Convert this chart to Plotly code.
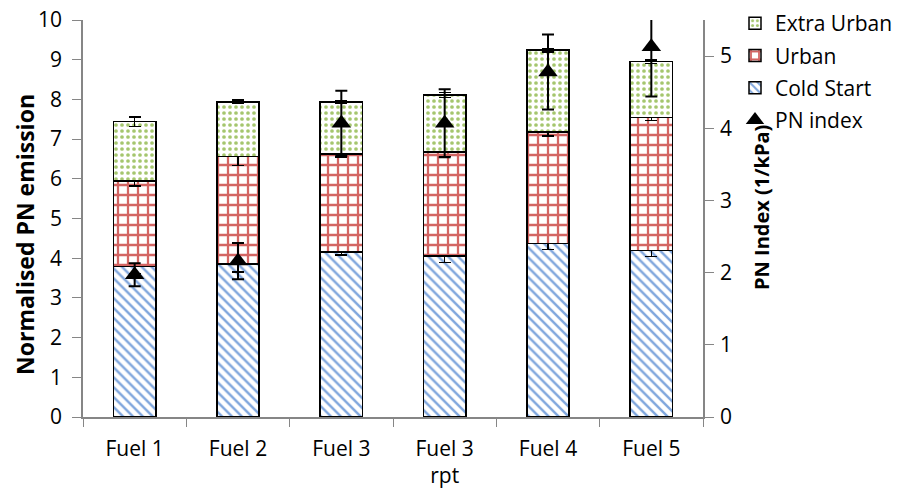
import plotly.graph_objects as go

categories = ["Fuel 1", "Fuel 2", "Fuel 3", "Fuel 3<br>rpt", "Fuel 4", "Fuel 5"]
cold_start = [3.79, 3.85, 4.16, 4.05, 4.37, 4.19]
cold_err = [0.18, 0.20, 0.08, 0.16, 0.15, 0.15]
urban = [2.16, 2.71, 2.46, 2.63, 2.81, 3.36]
urban_err = [0.13, 0.22, 0.07, 0.12, 0.10, 0.08]
extra_urban = [1.49, 1.38, 1.31, 1.43, 2.06, 1.40]
extra_err = [0.12, 0.04, 0.03, 0.06, 0.04, 0.04]
pn_index = [1.97, 2.16, 4.07, 4.07, 4.78, 5.13]
pn_err = [0.16, 0.25, 0.45, 0.47, 0.52, 0.69]

FONT = "'Open Sans', sans-serif"

W, H = 901, 497
ML, MT, MR, MB = 83, 20, 198, 80
PW, PH = W - ML - MR, H - MT - MB
def px_x(page_x):
    return (page_x - ML) / PW
def px_y(page_y):
    return (H - MB - page_y) / PH

def bar(name, vals, errs, fg, shape, size, sol, rank):
    return go.Bar(
        name=name, x=categories, y=vals, yaxis="y",
        marker=dict(color="white", line=dict(color="black", width=1.5),
                    pattern=dict(shape=shape, fgcolor=fg, bgcolor="white",
                                 size=size, solidity=sol, fillmode="replace")),
        error_y=dict(type="data", array=errs, color="black", thickness=1.5, width=6),
        legendrank=rank, legendgroup=name,
    )

fig = go.Figure()
fig.add_trace(bar("Cold Start", cold_start, cold_err, "#7fa6dd", "\\", 7, 0.35, 3))
fig.add_trace(bar("Urban", urban, urban_err, "#d36563", "+", 10, 0.4, 2))
fig.add_trace(bar("Extra Urban", extra_urban, extra_err, "#a5c66e", ".", 6, 0.3, 1))
fig.add_trace(go.Scatter(
    name="PN index", x=categories, y=pn_index, yaxis="y2", mode="markers",
    marker=dict(symbol="triangle-up", size=17, color="black"),
    error_y=dict(type="data", array=pn_err, color="black", thickness=2, width=6),
    legendrank=4, legendgroup="PN index", cliponaxis=True,
))

axis_col = "#868686"
fig.update_layout(
    width=W, height=H,
    margin=dict(l=ML, r=MR, t=MT, b=MB, autoexpand=False),
    paper_bgcolor="white", plot_bgcolor="white",
    barmode="stack", bargap=0.59,
    font=dict(family=FONT, size=21, color="black"),
    showlegend=True,
    legend=dict(x=px_x(735), y=px_y(3), xanchor="left", yanchor="top",
                traceorder="grouped", tracegroupgap=2,
                font=dict(size=21), itemwidth=30, bgcolor="rgba(0,0,0,0)"),
    xaxis=dict(type="category", tickson="boundaries", ticks="outside", ticklen=8,
               tickcolor=axis_col, showline=True, linecolor=axis_col, linewidth=1.5,
               showgrid=False, tickfont=dict(size=21), ticklabelstandoff=12),
    yaxis=dict(range=[0, 10], dtick=1, ticks="outside", ticklen=9, tickcolor=axis_col,
               showline=True, linecolor=axis_col, linewidth=1.5, showgrid=False,
               zeroline=False, tickfont=dict(size=21), ticklabelstandoff=6,
               ticklabeloverflow="allow"),
    yaxis2=dict(range=[0, 5.5], dtick=1, overlaying="y", side="right", ticks="outside",
                ticklen=9, tickcolor=axis_col, showline=True, linecolor=axis_col,
                linewidth=1.5, showgrid=False, zeroline=False, tickfont=dict(size=21),
                ticklabelstandoff=2, ticklabeloverflow="allow"),
    annotations=[
        dict(text="<b>Normalised PN emission</b>", xref="paper", yref="paper",
             x=px_x(25), y=px_y(235), textangle=-90, showarrow=False,
             xanchor="center", yanchor="middle", font=dict(size=23)),
        dict(text="<b>PN Index (1/kPa)</b>", xref="paper", yref="paper",
             x=px_x(762), y=px_y(208), textangle=-90, showarrow=False,
             xanchor="center", yanchor="middle", font=dict(size=20)),
    ],
)

fig.write_html("out.html", config={"displayModeBar": False},
               post_script="document.body.style.margin='0';")
